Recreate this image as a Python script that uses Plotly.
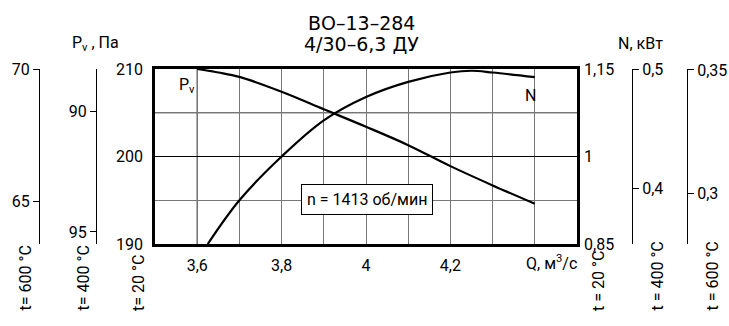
import plotly.graph_objects as go

W, H = 729, 326

# Pressure curve (left axis, Pa) and power curve (right axis, kW)
q_pv = [3.6, 3.65, 3.7, 3.8, 3.9, 4.0, 4.1, 4.2, 4.3, 4.4]
pv = [210.0, 209.6, 209.1, 207.4, 205.4, 203.4, 201.3, 198.9, 196.7, 194.6]
q_n = [3.625, 3.7, 3.8, 3.9, 4.0, 4.1, 4.2, 4.25, 4.3, 4.4]
n_kw = [0.85, 0.925, 1.0, 1.062, 1.102, 1.128, 1.144, 1.147, 1.144, 1.136]

# Axis ticks
x_ticks = [3.6, 3.8, 4.0, 4.2]
x_labels = ["3,6", "3,8", "4", "4,2"]
x_minor = [3.7, 3.9, 4.1, 4.3, 4.4]
pv20_ticks = [190, 200, 210]
pv20_minor = [195, 205]
n20_ticks = [0.85, 1.0, 1.15]
n20_labels = ["0,85", "1", "1,15"]
pv400_ticks = [90, 95]
pv600_ticks = [65, 70]
n400_ticks = [0.4, 0.5]
n400_labels = ["0,4", "0,5"]
n600_ticks = [0.3, 0.35]
n600_labels = ["0,3", "0,35"]

FONT = "Liberation Sans Narrow, Roboto, Arial Narrow, sans-serif"
TF = dict(family=FONT, size=16, color="black")
GRID = "#777777"


def px(x):
    return x / W


def py(y):
    return 1 - y / H


dom_x = [px(155), px(577)]
dom_y = [py(244), py(69)]

fig = go.Figure()
fig.add_trace(go.Scatter(x=q_pv, y=pv, mode="lines",
                         line=dict(color="black", width=2.2, shape="spline", smoothing=1),
                         showlegend=False, hoverinfo="skip"))
fig.add_trace(go.Scatter(x=q_n, y=n_kw, mode="lines", yaxis="y2",
                         line=dict(color="black", width=2.2, shape="spline", smoothing=1),
                         showlegend=False, hoverinfo="skip"))
# empty traces so the extra scales get drawn
for ax in ["y3", "y4", "y5", "y6"]:
    fig.add_trace(go.Scatter(x=[None], y=[None], yaxis=ax, showlegend=False, hoverinfo="skip"))

side_axis = dict(overlaying="y", anchor="free", showgrid=False, zeroline=False, showline=True,
                 linecolor="black", linewidth=1, ticks="outside", ticklen=6, tickcolor="black",
                 tickfont=TF, automargin=False)

fig.update_layout(
    width=W, height=H, autosize=False,
    margin=dict(l=0, r=0, t=0, b=0, autoexpand=False),
    paper_bgcolor="white", plot_bgcolor="white",
    font=TF,
    xaxis=dict(domain=dom_x, range=[3.5, 4.5], tickvals=x_ticks, ticktext=x_labels,
               showgrid=True, gridcolor=GRID, gridwidth=1, zeroline=False,
               showline=True, mirror=True, linecolor="black", linewidth=2.5,
               ticks="", ticklabelstandoff=5, tickfont=TF, automargin=False,
               minor=dict(tickvals=x_minor, showgrid=True, gridcolor=GRID, gridwidth=1)),
    yaxis=dict(domain=dom_y, range=[190, 210], tickvals=pv20_ticks,
               showgrid=True, gridcolor="black", gridwidth=1, zeroline=False,
               showline=True, mirror=True, linecolor="black", linewidth=2.5,
               ticks="", ticklabelstandoff=6, tickfont=TF, automargin=False,
               minor=dict(tickvals=pv20_minor, showgrid=True, gridcolor=GRID, gridwidth=1)),
    yaxis2=dict(overlaying="y", side="right", anchor="x", range=[0.85, 1.15],
                tickvals=n20_ticks, ticktext=n20_labels, showgrid=False, zeroline=False,
                ticks="", ticklabelstandoff=6, tickfont=TF, automargin=False),
    yaxis3=dict(side_axis, side="left", position=px(39), range=[63.41, 70], tickvals=pv600_ticks),
    yaxis4=dict(side_axis, side="left", position=px(96), range=[95.5, 88.25], tickvals=pv400_ticks),
    yaxis5=dict(side_axis, side="right", position=px(632), range=[0.3538, 0.5],
                tickvals=n400_ticks, ticktext=n400_labels),
    yaxis6=dict(side_axis, side="right", position=px(687), range=[0.2797, 0.3504],
                tickvals=n600_ticks, ticktext=n600_labels),
)

# darker grid lines seen in the original
fig.add_vline(x=x_ticks[0], line=dict(color="black", width=1), layer="below")
fig.add_hline(y=pv20_minor[1], line=dict(color="black", width=1), layer="below")


def note(text, x, y, **kw):
    a = dict(text=text, x=px(x), y=py(y), xref="paper", yref="paper", showarrow=False, font=TF,
             xanchor="center", yanchor="middle")
    a.update(kw)
    fig.add_annotation(**a)


title_font = dict(family="DejaVu Sans, Verdana, sans-serif", size=19, color="black")
note("ВО–13–284", 361, 23, font=title_font)
note("4/30–6,3 ДУ", 361, 44, font=title_font)
note("P<sub>v</sub> , Па", 95, 43)
note("N, кВт", 640, 43)
note("P<sub>v</sub>", 187, 85)
note("N", 530, 95)
note("Q, м<sup>3</sup>/с", 551, 262)
note("n = 1413 об/мин", 367, 199, bgcolor="white", bordercolor="black", borderwidth=1, borderpad=5)

for text, x in [("t= 600 °C", 25), ("t= 400 °C", 83), ("t= 20 °C", 138),
                ("t = 20 °C", 598), ("t = 400 °C", 657), ("t = 600 °C", 712)]:
    note(text, x, 313, textangle=-90, yanchor="bottom")

fig.write_html("out.html", config={"displayModeBar": False},
               post_script="document.body.style.margin='0';")
